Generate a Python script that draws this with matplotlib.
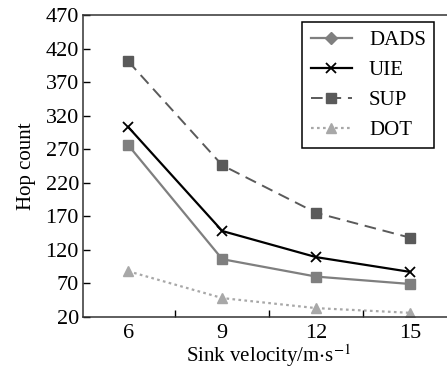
import matplotlib
matplotlib.use("Agg")
import matplotlib.pyplot as plt
from matplotlib.lines import Line2D

# Data
velocity = [6, 9, 12, 15]
dads = [276, 106, 80, 69]
uie = [303, 148, 109, 87]
sup = [401, 246, 175, 138]
dot = [88, 48, 33, 26]

plt.rcParams['font.family'] = ['Liberation Serif', 'DejaVu Serif']
plt.rcParams['mathtext.fontset'] = 'stix'

fig = plt.figure(figsize=(4.47, 3.68), dpi=100)
ax = fig.add_axes([0.186, 0.139, 0.83, 0.82])

ax.plot(velocity, dads, color='#7f7f7f', lw=1.6, marker='s', ms=7)
ax.plot(velocity, uie, color='black', lw=1.6, marker='x', ms=7, mew=1.3)
ax.plot(velocity, sup, color='#5a5a5a', lw=1.4, ls=(0, (6, 3.5)), marker='s', ms=7)
ax.plot(velocity, dot, color='#a8a8a8', lw=1.6, ls=(0, (1.2, 1.5)), marker='^', ms=7)

ax.set_xlim(4.56, 16.4)
ax.set_ylim(20, 470)
ax.set_yticks(range(20, 471, 50))
ax.set_xticks(velocity)
ax.set_xticks([7.5, 10.5, 13.5], minor=True)
ax.tick_params(axis='x', which='major', length=0, labelsize=16, pad=5)
ax.tick_params(axis='x', which='minor', direction='in', length=5, width=1)
ax.tick_params(axis='y', direction='in', length=5, width=1, labelsize=16, pad=3)
ax.spines['right'].set_visible(False)
for s in ['left', 'bottom', 'top']:
    ax.spines[s].set_linewidth(1.1)
    ax.spines[s].set_color('#333333')

ax.set_xlabel('Sink velocity/m$\\cdot$s$^{-1}$', fontsize=15, labelpad=0)
ax.set_ylabel('Hop count', fontsize=15, labelpad=7)

handles = [
    Line2D([], [], color='#7f7f7f', lw=1.6, marker='D', ms=6),
    Line2D([], [], color='black', lw=1.6, marker='x', ms=7, mew=1.3),
    Line2D([], [], color='#5a5a5a', lw=1.4, ls=(0, (6, 3.5)), marker='s', ms=7),
    Line2D([], [], color='#a8a8a8', lw=1.6, ls=(0, (1.2, 1.5)), marker='^', ms=7),
]
leg = ax.legend(handles, ['DADS', 'UIE', 'SUP', 'DOT'], loc='upper right',
                bbox_to_anchor=(0.946, 0.977), borderaxespad=0, fontsize=15,
                fancybox=False, edgecolor='black', framealpha=1,
                handlelength=2.0, labelspacing=0.5, borderpad=0.4)
leg.get_frame().set_linewidth(1.1)

fig.savefig('out.png', dpi=100)
